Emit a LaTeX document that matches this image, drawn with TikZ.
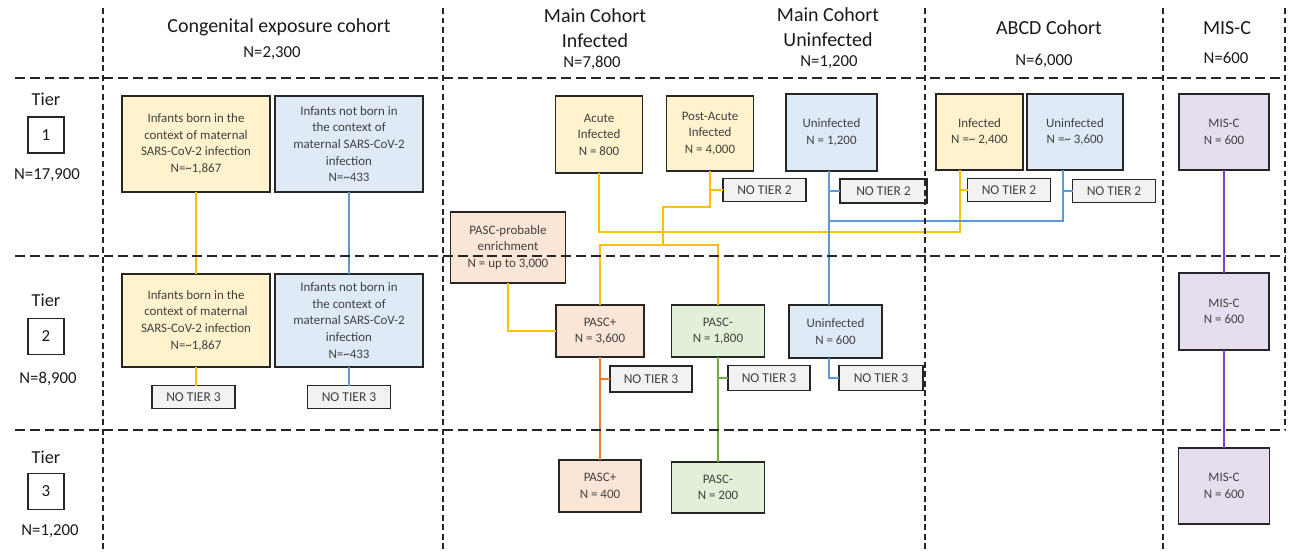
\documentclass[tikz,border=0pt]{standalone}
\usepackage{fontspec}
\setmainfont{Carlito}
\usetikzlibrary{positioning,calc}
\definecolor{ylwfill}{HTML}{FFF2CC}
\definecolor{ylwline}{HTML}{FFC000}
\definecolor{blufill}{HTML}{DEEBF7}
\definecolor{bluline}{HTML}{5B9BD5}
\definecolor{pchfill}{HTML}{FBE5D6}
\definecolor{orgline}{HTML}{ED7D31}
\definecolor{grnfill}{HTML}{E2F0D9}
\definecolor{grnline}{HTML}{70AD47}
\definecolor{purfill}{HTML}{E6DEEF}
\definecolor{purline}{HTML}{7F3FBF}
\definecolor{grayfill}{HTML}{F2F2F2}
\definecolor{edge}{HTML}{262626}
\definecolor{txtcol}{HTML}{404040}
\definecolor{hdrcol}{HTML}{1A1A1A}

\begin{document}
\begin{tikzpicture}[x=0.025cm,y=-0.025cm,
				every node/.style={inner sep=1pt,outer sep=0pt,align=center},
				wh/.style 2 args={minimum width=#1*0.025cm,minimum height=#2*0.025cm},
				block/.style={draw=edge,line width=1.2pt,text=txtcol,font=\fontsize{9.2}{11.8}\selectfont},
				ylwbox/.style={block,fill=ylwfill},
				blubox/.style={block,fill=blufill},
				pchbox/.style={block,fill=pchfill},
				grnbox/.style={block,fill=grnfill},
				purbox/.style={block,fill=purfill},
				notier/.style={block,fill=grayfill,wh={83}{23},font=\fontsize{9.6}{11}\selectfont},
				hdr/.style={text=hdrcol,font=\fontsize{14.2}{17.7}\selectfont},
				hdrn/.style={text=hdrcol,font=\fontsize{11.9}{14}\selectfont},
				tiert/.style={text=hdrcol,font=\fontsize{13}{15}\selectfont},
				tierbox/.style={draw=edge,line width=1.1pt,wh={36}{36},text=hdrcol,font=\fontsize{12}{14}\selectfont},
				rowline/.style={draw=edge,line width=0.95pt,dash pattern=on 7pt off 3.5pt},
				colline/.style={draw=edge,line width=0.9pt,dash pattern=on 4.2pt off 2.6pt},
				lnk/.style={line width=1.15pt},
				ylnk/.style={lnk,draw=ylwline},
				blnk/.style={lnk,draw=bluline},
				olnk/.style={lnk,draw=orgline},
				glnk/.style={lnk,draw=grnline},
				plnk/.style={lnk,draw=purline}]
				\useasboundingbox (0,0) rectangle (1291,554);

				\node[hdr]  (CONG)  at (279,27)    {Congenital exposure cohort};
				\node[hdrn] (CONGN) at (272,53)    {N=2,300};
				\node[hdr]  (MCI)   at (595,28.5)  {Main Cohort\\Infected};
				\node[hdrn] (MCIN)  at (592,63)    {N=7,800};
				\node[hdr]  (MCU)   at (828,27.5)  {Main Cohort\\Uninfected};
				\node[hdrn] (MCUN)  at (829,62)    {N=1,200};
				\node[hdr]  (ABCD)  at (1049,28)   {ABCD Cohort};
				\node[hdrn] (ABCDN) at (1044,61)   {N=6,000};
				\node[hdr]  (MISC)  at (1227,28)   {MIS-C};
				\node[hdrn] (MISCN) at (1226,58)   {N=600};

				\node[tiert]   (TA)  at (46,99)    {Tier};
				\node[tierbox] (TBA) at (46,135)   {1};
				\node[hdrn]    (TNA) at (47,175)   {N=17,900};
				\node[tiert]   (TB)  at (46,300)   {Tier};
				\node[tierbox] (TBB) at (46,336.5) {2};
				\node[hdrn]    (TNB) at (48,379)   {N=8,900};
				\node[tiert]   (TC)  at (46,457)   {Tier};
				\node[tierbox] (TBC) at (46,491.5) {3};
				\node[hdrn]    (TNC) at (50,531)   {N=1,200};

				\node[ylwbox,wh={148}{96}] (CYA) at (196,144) {Infants born in the\\context of maternal\\SARS-CoV-2 infection\\N=\textasciitilde1,867};
				\node[blubox,wh={148}{96}] (CBA) [right=0.125cm of CYA] {Infants not born in\\the context of\\maternal SARS-CoV-2\\infection\\N=\textasciitilde433};
				\node[ylwbox,wh={148}{93}] (CYB) at (196,320.5) {Infants born in the\\context of maternal\\SARS-CoV-2 infection\\N=\textasciitilde1,867};
				\node[blubox,wh={148}{93}] (CBB) [right=0.125cm of CYB] {Infants not born in\\the context of\\maternal SARS-CoV-2\\infection\\N=\textasciitilde433};
				\node[notier] (NTCY) at (193.5,397) {NO TIER 3};
				\node[notier] (NTCB) at (349,397)   {NO TIER 3};

				\node[ylwbox,wh={87}{77}] (ACUTE) at (599,134.5) {Acute\\Infected\\N = 800};
				\node[ylwbox,wh={87}{75}] (POST)  at (710,133.5) {Post-Acute\\Infected\\N = 4,000};
				\node[blubox,wh={91}{77}] (UNA)   at (831.5,132.5) {Uninfected\\N = 1,200};
				\node[ylwbox,wh={87}{76}] (ABI)   at (979.5,132)   {Infected\\N =\textasciitilde{} 2,400};
				\node[blubox,wh={96}{76}] (ABU)   [right=0.1cm of ABI] {Uninfected\\N =\textasciitilde{} 3,600};
				\node[purbox,wh={90}{76}] (MSA)   at (1224,132)    {MIS-C\\N = 600};

				\node[notier] (NTPOST) at (764.5,190) {NO TIER 2};
				\node[notier,wh={87}{24}] (NTUNA) at (883.5,191) {NO TIER 2};
				\node[notier] (NTABI)  at (1009,190)  {NO TIER 2};
				\node[notier] (NTABU)  at (1114,191)  {NO TIER 2};

				\node[pchbox,wh={115}{71}] (ENR) at (508,247.5) {PASC-probable\\enrichment\\N = up to 3,000};
				\node[pchbox,wh={88}{52}] (PPB) at (600,331)   {PASC+\\N = 3,600};
				\node[grnbox,wh={93}{52}] (PMB) at (718,331)   {PASC-\\N = 1,800};
				\node[blubox,wh={93}{53}] (UNB) at (835.5,331.5) {Uninfected\\N = 600};
				\node[purbox,wh={90}{77}] (MSB) at (1224,311.5) {MIS-C\\N = 600};

				\node[notier,wh={82}{26}] (NTPP) at (651,379) {NO TIER 3};
				\node[notier,wh={82}{25}] (NTPM) at (769,378) {NO TIER 3};
				\node[notier,wh={84}{25}] (NTUN) at (881,378) {NO TIER 3};

				\node[pchbox,wh={82}{52}] (PPC) at (600,486)    {PASC+\\N = 400};
				\node[grnbox,wh={93}{51}] (PMC) at (718,487.5)  {PASC-\\N = 200};
				\node[purbox,wh={91}{76}] (MSC) at (1224,486)   {MIS-C\\N = 600};

				\coordinate (JI) at (960,232);
				\coordinate (JP) at (663,207);
				\coordinate (JQ) at (663,245);
				\coordinate (JB) at (829,221);
				\coordinate (JU) at (1063,221);

				\draw[ylnk] (CYA) -- (CYB);
				\draw[ylnk] (CYB.south) -- (CYB.south |- NTCY.north);
				\draw[blnk] (CBA) -- (CBB);
				\draw[blnk] (CBB.south) -- (CBB.south |- NTCB.north);

				\draw[ylnk] (ACUTE.south) |- (JI) -- (ABI.south -| JI);
				\draw[ylnk] (NTABI.west -| JI) -- (NTABI.west);
				\draw[ylnk] (POST.south) |- (JP) -- (JQ);
				\draw[ylnk] (NTPOST.west -| POST.south) -- (NTPOST.west);
				\draw[ylnk] (PPB.north) |- (JQ) -| (PMB.north);
				\draw[ylnk] (ENR.south) |- (PPB.west);

				\draw[blnk] (UNA.south -| JB) -- (UNB.north -| JB);
				\draw[blnk] (NTUNA.west -| JB) -- (NTUNA.west);
				\draw[blnk] (JB) -- (JU) -- (ABU.south -| JU);
				\draw[blnk] (NTABU.west -| JU) -- (NTABU.west);
				\draw[blnk] (UNB.south -| JB) |- (NTUN.west);

				\draw[olnk] (PPB) -- (PPC);
				\draw[olnk] (NTPP.west -| PPB.south) -- (NTPP.west);
				\draw[glnk] (PMB) -- (PMC);
				\draw[glnk] (NTPM.west -| PMB.south) -- (NTPM.west);
				\draw[plnk] (MSA) -- (MSB);
				\draw[plnk] (MSB) -- (MSC);

				\draw[rowline] (15,78) -- (1285,78) (15,256) -- (1285,256) (15,430) -- (1285,430);
				\draw[colline] (103,8) -- (103,552) (443,8) -- (443,552) (925,8) -- (925,552)
					(1163,8) -- (1163,552) (1285,8) -- (1285,430);
			\end{tikzpicture}
\end{document}
